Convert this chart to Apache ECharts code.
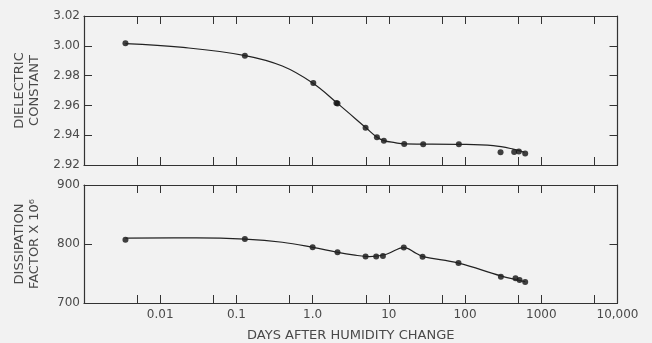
<!DOCTYPE html>
<html>
<head>
<meta charset="utf-8">
<script src="https://cdn.jsdelivr.net/npm/echarts@6.0.0/dist/echarts.min.js"></script>
<style>
  html, body { margin: 0; padding: 0; background: #f2f2f2; }
  #main { width: 652px; height: 343px; }
</style>
</head>
<body>
<div id="main"></div>
<script>
// measured points, dielectric constant (top panel)
var daysDiel = [0.0035, 0.129, 1.02, 2.05, 2.12, 4.95, 6.97, 8.6, 15.9, 28.2, 83, 292, 441, 508, 615];
var valDiel = [3.0017, 2.9934, 2.975, 2.9616, 2.9612, 2.945, 2.9386, 2.9363, 2.9341, 2.9339, 2.9339, 2.9285, 2.9287, 2.929, 2.9278];
// drawn curve, dielectric constant
var curveDaysDiel = [0.0035, 0.02, 0.13, 0.4, 1.0, 2.1, 5, 7.0, 8.6, 12, 16, 83, 234, 428, 600];
var curveValDiel = [3.0015, 2.9989, 2.9934, 2.9864, 2.975, 2.9615, 2.945, 2.9386, 2.9364, 2.935, 2.9342, 2.9339, 2.933, 2.9307, 2.9285];

// measured points, dissipation factor x 10^6 (bottom panel)
var daysDiss = [0.0035, 0.129, 1.0, 2.12, 4.95, 6.82, 8.36, 15.7, 27.7, 82, 295, 459, 519, 615];
var valDiss = [807.3, 808.3, 794.4, 786, 778.7, 778.7, 779.8, 793.9, 778.2, 767.6, 744.6, 741.9, 739, 735.7];
// drawn curve, dissipation factor
var curveDaysDiss = [0.0035, 0.03, 0.13, 0.4, 1.0, 2.1, 3.4, 5.6, 9.3, 15.7, 23, 28, 82, 295, 615];
var curveValDiss = [810, 810.5, 808.3, 803, 794.4, 786, 781.5, 778.7, 782.7, 794, 784, 778.5, 767.6, 746, 736];

// x ticks and labels
var tickDays = [0.001, 0.005, 0.01, 0.05, 0.1, 0.5, 1, 5, 10, 50, 100, 500, 1000, 5000, 10000];
var labelDays = [0.01, 0.1, 1, 10, 100, 1000, 10000];
var labelText = ['0.01', '0.1', '1.0', '10', '100', '1000', '10,000'];

function pairs(xs, ys) {
    return xs.map(function (x, i) { return [x, ys[i]]; });
}

var lineColor = '#333';
var textColor = '#4a4a4a';
var font = 'DejaVu Sans';

function xAxisFor(grid, pos, withLabels) {
    return {
        type: 'log',
        logBase: 10,
        gridIndex: grid,
        position: pos,
        min: 0.001,
        max: 10000,
        axisLine: { show: true, lineStyle: { color: lineColor, width: 1.2 } },
        axisTick: { show: true, inside: true, length: 8, customValues: tickDays, lineStyle: { color: lineColor } },
        axisLabel: withLabels ? {
            show: true,
            customValues: labelDays,
            margin: 6,
            color: textColor,
            fontFamily: font,
            fontSize: 12,
            formatter: function (v) {
                return labelText[Math.round(Math.log10(v)) + 2];
            }
        } : { show: false },
        splitLine: { show: false },
        minorTick: { show: false }
    };
}

function yAxisFor(grid, pos, min, max, step, name, digits) {
    var left = pos === 'left';
    return {
        type: 'value',
        gridIndex: grid,
        position: pos,
        min: min,
        max: max,
        interval: step,
        name: left ? name : '',
        nameLocation: 'middle',
        nameGap: 42,
        nameTextStyle: { color: textColor, fontFamily: font, fontSize: 13, lineHeight: 15 },
        axisLine: { show: true, lineStyle: { color: lineColor, width: 1.2 } },
        axisTick: { show: true, inside: true, length: 8, lineStyle: { color: lineColor } },
        axisLabel: left ? {
            show: true,
            margin: 4,
            color: textColor,
            fontFamily: font,
            fontSize: 12,
            formatter: function (v) { return v.toFixed(digits); }
        } : { show: false },
        splitLine: { show: false }
    };
}

var myChart = echarts.init(document.getElementById('main'));
myChart.setOption({
    backgroundColor: '#f2f2f2',
    animation: false,
    grid: [
        { left: 84, right: 34.5, top: 16, height: 149 },
        { left: 84, right: 34.5, top: 185, height: 119.5 }
    ],
    xAxis: [
        xAxisFor(0, 'bottom', false),
        xAxisFor(0, 'top', false),
        Object.assign(xAxisFor(1, 'bottom', true), {
            name: 'DAYS AFTER HUMIDITY CHANGE',
            nameLocation: 'middle',
            nameGap: 26,
            nameTextStyle: { color: textColor, fontFamily: font, fontSize: 13 }
        }),
        xAxisFor(1, 'top', false)
    ],
    yAxis: [
        yAxisFor(0, 'left', 2.92, 3.02, 0.02, 'DIELECTRIC\nCONSTANT', 2),
        yAxisFor(0, 'right', 2.92, 3.02, 0.02, '', 2),
        yAxisFor(1, 'left', 700, 900, 100, 'DISSIPATION\nFACTOR X 10⁶', 0),
        yAxisFor(1, 'right', 700, 900, 100, '', 0)
    ],
    series: [
        {
            type: 'line', xAxisIndex: 0, yAxisIndex: 0,
            data: pairs(curveDaysDiel, curveValDiel),
            smooth: 0.4, showSymbol: false,
            lineStyle: { color: '#222', width: 1.2 }
        },
        {
            type: 'scatter', xAxisIndex: 0, yAxisIndex: 0,
            data: pairs(daysDiel, valDiel),
            symbolSize: 6, itemStyle: { color: '#111' }
        },
        {
            type: 'line', xAxisIndex: 2, yAxisIndex: 2,
            data: pairs(curveDaysDiss, curveValDiss),
            smooth: 0.4, showSymbol: false,
            lineStyle: { color: '#222', width: 1.2 }
        },
        {
            type: 'scatter', xAxisIndex: 2, yAxisIndex: 2,
            data: pairs(daysDiss, valDiss),
            symbolSize: 6, itemStyle: { color: '#111' }
        }
    ]
});
</script>
</body>
</html>
